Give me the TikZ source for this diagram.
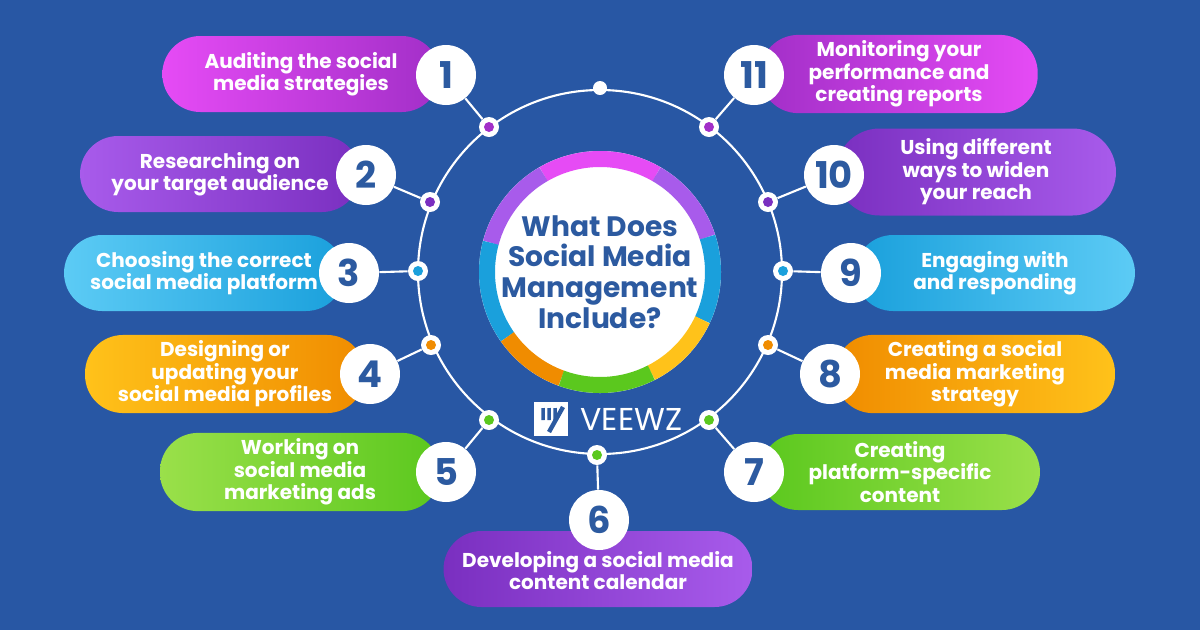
\documentclass[tikz,border=0pt]{standalone}
\usepackage{fontspec}
\setmainfont{Poppins}
\usetikzlibrary{positioning}
\definecolor{bgblue}{HTML}{2857A4}
\definecolor{numblue}{HTML}{2C5AA0}
\definecolor{magA}{HTML}{E64BF5}
\definecolor{magB}{HTML}{A22FC8}
\definecolor{vioA}{HTML}{A85BEB}
\definecolor{vioB}{HTML}{7A2FC0}
\definecolor{cyaA}{HTML}{5CCBF5}
\definecolor{cyaB}{HTML}{1AA0DC}
\definecolor{oraA}{HTML}{FFC21A}
\definecolor{oraB}{HTML}{F08C00}
\definecolor{greA}{HTML}{9AE04A}
\definecolor{greB}{HTML}{5BC81E}
\tikzset{
  pill/.style={rectangle, rounded corners=0.76cm, minimum width=5.6cm, minimum height=1.52cm,
    text=white, align=center, font=\fontsize{11.4}{12.8}\selectfont\bfseries},
  num/.style={circle, fill=white, minimum size=1.2cm, inner sep=0pt, text=numblue,
    font=\fontsize{21}{21}\selectfont\bfseries},
  dot/.style={circle, fill=white, minimum size=0.4cm, inner sep=0pt},
  core/.style={circle, minimum size=0.2cm, inner sep=0pt},
  link/.style={white, line width=1.2pt},
  seg/.style={line width=0.32cm}
}
\begin{document}
\begin{tikzpicture}[x=0.02cm, y=-0.02cm]
  \fill[bgblue] (0,0) rectangle (1200,630);
  \useasboundingbox (0,0) rectangle (1200,630);

  % big ring
  \coordinate (c) at (600,272);
  \draw[link] (c) circle (182);
  \node[dot, minimum size=0.28cm] (top) at (600,88) {};

  % pills, left side
  \node[pill, left color=magA, right color=magB, minimum width=5.55cm] (p1) at (301,74) {Auditing the social\\media strategies};
  \node[pill, left color=vioA, right color=vioB] (p2) at (220,174) {Researching on\\your target audience};
  \node[pill, left color=cyaA, right color=cyaB] (p3) at (204,273) {Choosing the correct\\social media platform};
  \node[pill, left color=oraA, right color=oraB] (p4) at (225,374) {Designing or\\updating your\\social media profiles};
  \node[pill, left color=greA, right color=greB] (p5) at (300,472) {Working on\\social media\\marketing ads};
  % pill at the bottom
  \node[pill, left color=vioB, right color=vioA, minimum width=6.18cm] (p6) at (598,569) {\\[-2pt]Developing a social media\\content calendar};
  % pills, right side
  \node[pill, left color=greB, right color=greA] (p7) at (900,472) {Creating\\platform-specific\\content};
  \node[pill, left color=oraB, right color=oraA] (p8) at (975,374) {Creating a social\\media marketing\\strategy};
  \node[pill, left color=cyaB, right color=cyaA] (p9) at (995,273) {Engaging with\\and responding};
  \node[pill, left color=vioB, right color=vioA, minimum height=1.74cm, rounded corners=0.87cm] (p10) at (976,172) {Using different\\ways to widen\\your reach};
  \node[pill, left color=magB, right color=magA, minimum width=5.55cm] (p11) at (899,74) {Monitoring your\\performance and\\creating reports};

  % dots on the ring
  \node[dot] (d1) at (489,127) {};  \node[core, fill=magB] at (d1) {};
  \node[dot] (d2) at (430,202) {};  \node[core, fill=vioB] at (d2) {};
  \node[dot] (d3) at (418,271) {};  \node[core, fill=cyaB] at (d3) {};
  \node[dot] (d4) at (431,345) {};  \node[core, fill=oraB] at (d4) {};
  \node[dot] (d5) at (489,420) {};  \node[core, fill=greB] at (d5) {};
  \node[dot] (d6) at (597,455) {};  \node[core, fill=greB] at (d6) {};
  \node[dot] (d7) at (709,420) {};  \node[core, fill=greB] at (d7) {};
  \node[dot] (d8) at (768,345) {};  \node[core, fill=oraB] at (d8) {};
  \node[dot] (d9) at (783,271) {};  \node[core, fill=cyaB] at (d9) {};
  \node[dot] (d10) at (768,202) {}; \node[core, fill=vioB] at (d10) {};
  \node[dot] (d11) at (709,127) {}; \node[core, fill=magB] at (d11) {};

  % number badges
  \node[num] (n1) at (446,75) {1};
  \node[num] (n2) at (366,175) {2};
  \node[num] (n3) at (349,273) {3};
  \node[num] (n4) at (370,374) {4};
  \node[num] (n5) at (446,472) {5};
  \node[num] (n6) at (599,520) {6};
  \node[num] (n7) at (754,472) {7};
  \node[num] (n8) at (830,374) {8};
  \node[num] (n9) at (851,273) {9};
  \node[num] (n10) at (834,175) {10};
  \node[num] (n11) at (754,75) {11};

  % links
  \draw[link] (d1) -- (n1);   \draw[link] (d2) -- (n2);
  \draw[link] (d3) -- (n3);   \draw[link] (d4) -- (n4);
  \draw[link] (d5) -- (n5);   \draw[link] (d6) -- (n6);
  \draw[link] (d7) -- (n7);   \draw[link] (d8) -- (n8);
  \draw[link] (d9) -- (n9);   \draw[link] (d10) -- (n10);
  \draw[link] (d11) -- (n11);

  % centre disc
  \fill[white] (c) circle (121);
  \draw[seg, magA] (c) ++(-60:113) arc[start angle=-60, end angle=-120, radius=113];
  \draw[seg, vioA] (c) ++(-120:113) arc[start angle=-120, end angle=-165, radius=113];
  \draw[seg, vioA] (c) ++(-18:113) arc[start angle=-18, end angle=-60, radius=113];
  \draw[seg, cyaB] (c) ++(-165:113) arc[start angle=-165, end angle=-215, radius=113];
  \draw[seg, cyaB] (c) ++(25:113) arc[start angle=25, end angle=-18, radius=113];
  \draw[seg, oraB] (c) ++(-215:113) arc[start angle=-215, end angle=-250, radius=113];
  \draw[seg, oraA] (c) ++(63:113) arc[start angle=63, end angle=25, radius=113];
  \draw[seg, greB] (c) ++(110:113) arc[start angle=110, end angle=63, radius=113];
  \node[align=center, text=numblue, font=\fontsize{16}{17.5}\selectfont\bfseries] (title) at (c) {What Does\\Social Media\\Management\\Include?};

  % logo
  \node[fill=white, minimum size=0.68cm, inner sep=0pt] (logo) at (551,419) {};
  \foreach \dx in {-8,-2,4}
    \draw[numblue, line width=2pt] ([xshift=\dx*0.02cm, yshift=0.22cm]logo.center) -- ++(0.12,12);
  \draw[numblue, line width=2.5pt] ([xshift=0.24cm, yshift=0.24cm]logo.center) -- ([xshift=-0.04cm, yshift=-0.26cm]logo.center);
  \node[right=0.12cm of logo, text=white, font=\fontsize{18}{18}\selectfont] (brand) {VEEWZ};
\end{tikzpicture}
\end{document}
